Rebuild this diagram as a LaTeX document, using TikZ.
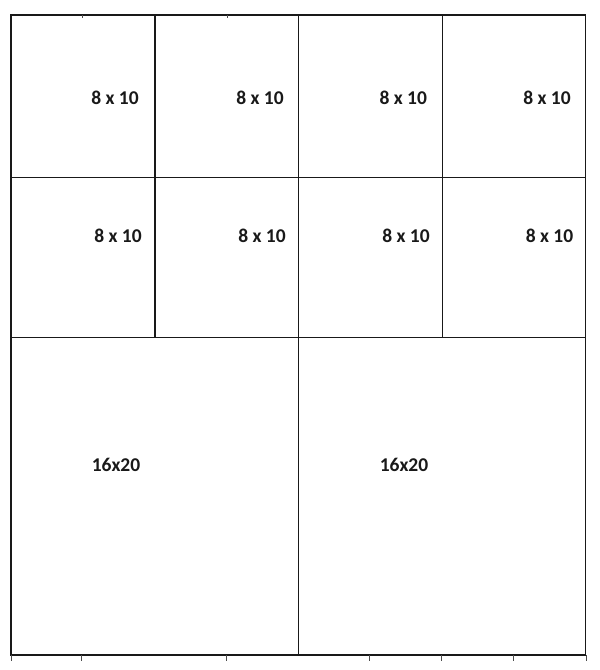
\documentclass[tikz,border=0pt]{standalone}
\usepackage{fontspec}
\setmainfont{Carlito}
\begin{document}
\begin{tikzpicture}[x=1pt,y=-1pt,
  gridline/.style={draw=black!90,line width=1.3pt},
  tickmark/.style={draw=black!70,line width=0.8pt},
  sizelabel/.style={font=\bfseries\fontsize{19.5}{21}\selectfont,inner sep=0pt,text=black!90}]
\useasboundingbox[fill=white] (0,0) rectangle (600,670);
% outer frame
\draw[gridline] (11,15) rectangle (585.5,655);
\draw[draw=black!90,line width=2pt] (11,15) -- (11,655);
% row lines
\draw[gridline] (11,177.3) -- (585.5,177.3);
\draw[gridline] (11,337.3) -- (585.5,337.3);
% column lines
\draw[gridline] (155,15) -- (155,337.3);
\draw[gridline] (298.3,15) -- (298.3,655);
\draw[gridline] (442.3,15) -- (442.3,337.3);
% small ticks
\foreach \tx in {82.5,227.7} \draw[tickmark] (\tx,15) -- (\tx,17.5);
\foreach \tx in {11,81,226,369.3,441.7,513.3,586} \draw[tickmark] (\tx,655) -- (\tx,661);
% labels
\node[sizelabel] (a1) at (115,97.8) {8 x 10};
\node[sizelabel] (a2) at (260,97.8) {8 x 10};
\node[sizelabel] (a3) at (403.3,97.8) {8 x 10};
\node[sizelabel] (a4) at (547,97.8) {8 x 10};
\node[sizelabel] (b1) at (118,236.3) {8 x 10};
\node[sizelabel] (b2) at (262,236.3) {8 x 10};
\node[sizelabel] (b3) at (406,236.3) {8 x 10};
\node[sizelabel] (b4) at (549.5,236.3) {8 x 10};
\node[sizelabel] (c1) at (116,465) {16x20};
\node[sizelabel] (c2) at (404,465) {16x20};
\end{tikzpicture}
\end{document}
